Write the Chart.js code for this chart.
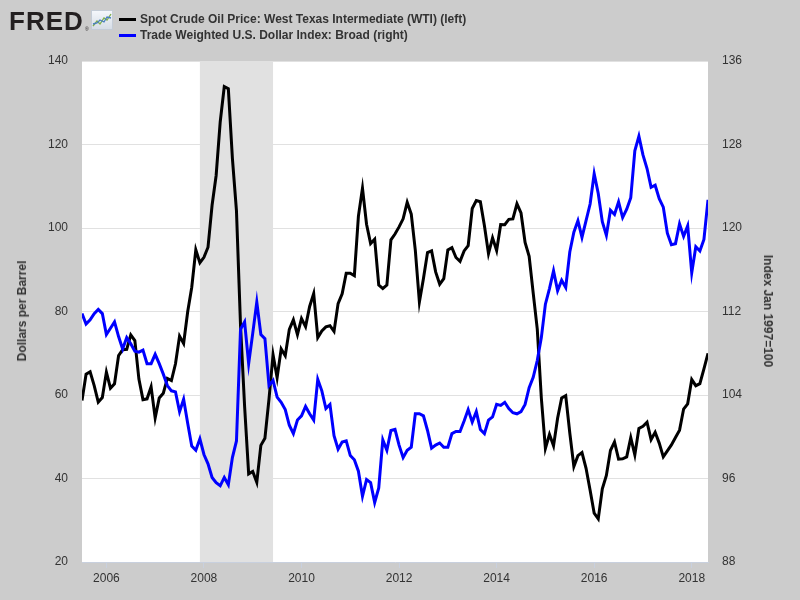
<!DOCTYPE html>
<html>
<head>
<meta charset="utf-8">
<script src="https://cdn.jsdelivr.net/npm/chart.js@4.4.1/dist/chart.umd.min.js"></script>
<style>
  html, body { margin: 0; padding: 0; background: #cccccc; }
  #wrap { position: relative; width: 800px; height: 600px; overflow: hidden; font-family: "Liberation Sans", Arial, sans-serif; }
  #c { position: absolute; left: 0; top: 0; }
  .logo { position: absolute; left: 9px; top: 6px; font-weight: bold; font-size: 26px; line-height: 30px; color: #231f20; letter-spacing: 1px; }
  .reg { position: absolute; left: 85px; top: 26px; font-size: 5px; color: #231f20; }
  .icon { position: absolute; left: 91px; top: 10px; width: 22px; height: 20px; background: linear-gradient(#f4f7fb, #d6dde6); border: 1px solid #c4ccd6; box-sizing: border-box; }
  .leg { position: absolute; left: 119px; height: 16px; font-size: 12px; font-weight: bold; color: #333; white-space: nowrap; }
  .leg .sw { position: absolute; left: 0; top: 7px; width: 17px; height: 3px; }
  .leg .tx { position: absolute; left: 21px; top: 0; line-height: 16px; }
  .ytitle { position: absolute; font-size: 12px; font-weight: bold; color: #333; white-space: nowrap; }
</style>
</head>
<body>
<div id="wrap">
  <canvas id="c" width="800" height="600"></canvas>
  <div class="logo">FRED</div>
  <div class="reg">®</div>
  <div class="icon">
    <svg width="20" height="18" viewBox="0 0 20 18">
      <polyline points="1,15 5,10 8,13 12,7 15,9 19,3" fill="none" stroke="#7fb04a" stroke-width="1.3"/>
      <polyline points="1,13 5,12 8,9 12,11 15,6 19,7" fill="none" stroke="#4a7fc0" stroke-width="1.3"/>
    </svg>
  </div>
  <div class="leg" style="top:11px;"><div class="sw" style="background:#000000"></div><div class="tx">Spot Crude Oil Price: West Texas Intermediate (WTI) (left)</div></div>
  <div class="leg" style="top:27px;"><div class="sw" style="background:#0000ff"></div><div class="tx">Trade Weighted U.S. Dollar Index: Broad (right)</div></div>
  <div class="ytitle" id="lt" style="left:22px; top:311px; transform: translate(-50%,-50%) rotate(-90deg);">Dollars per Barrel</div>
  <div class="ytitle" id="rt" style="left:768px; top:311px; transform: translate(-50%,-50%) rotate(90deg);">Index Jan 1997=100</div>
</div>
<script>
// ---- Data (monthly, first month = July 2005) ----
const startYear = 2005;
const startMonth = 7;

const wti = [
  58.70, 64.97, 65.57, 62.26, 58.32, 59.41,
  65.49, 61.63, 62.69, 69.44, 70.84, 70.95, 74.41, 73.04, 63.80, 58.89, 59.08, 61.96,
  54.51, 59.28, 60.44, 63.98, 63.46, 67.49, 74.12, 72.36, 79.92, 85.80, 94.77, 91.69,
  92.97, 95.39, 105.45, 112.58, 125.40, 133.88, 133.37, 116.67, 104.11, 76.61, 57.31, 41.12,
  41.71, 39.09, 47.94, 49.65, 59.03, 69.64, 64.15, 71.05, 69.41, 75.72, 77.99, 74.47,
  78.33, 76.39, 81.20, 84.29, 73.74, 75.34, 76.32, 76.60, 75.24, 81.89, 84.25, 89.15,
  89.17, 88.58, 102.86, 109.53, 100.90, 96.26, 97.30, 86.33, 85.52, 86.32, 97.16, 98.56,
  100.27, 102.20, 106.16, 103.32, 94.66, 82.30, 87.90, 94.13, 94.51, 89.49, 86.53, 87.86,
  94.76, 95.31, 92.94, 92.02, 94.51, 95.77, 104.67, 106.57, 106.29, 100.54, 93.86, 97.63,
  94.62, 100.82, 100.80, 102.07, 102.18, 105.79, 103.59, 96.54, 93.21, 84.40, 75.79, 59.29,
  47.22, 50.58, 47.82, 54.45, 59.27, 59.82, 50.90, 42.87, 45.48, 46.22, 42.44, 37.19,
  31.68, 30.32, 37.55, 40.75, 46.71, 48.76, 44.65, 44.72, 45.18, 49.78, 45.66, 51.97,
  52.50, 53.47, 49.33, 51.06, 48.48, 45.18, 46.63, 48.04, 49.82, 51.58, 56.64, 57.88,
  63.70, 62.23, 62.73, 66.25, 69.98
];

const dollarIndex = [
  111.8, 110.8, 111.2, 111.8, 112.2, 111.8,
  109.8, 110.4, 111.0, 109.6, 108.4, 109.5, 108.9, 108.2, 108.1, 108.3, 107.0, 107.0,
  107.9, 107.0, 106.0, 104.9, 104.4, 104.3, 102.4, 103.6, 101.3, 99.1, 98.7, 99.8,
  98.3, 97.4, 96.1, 95.6, 95.3, 96.1, 95.4, 98.0, 99.6, 110.3, 111.0, 107.0,
  109.9, 112.9, 109.8, 109.4, 104.9, 105.4, 103.8, 103.3, 102.6, 101.1, 100.3, 101.6,
  102.0, 102.9, 102.2, 101.6, 105.5, 104.4, 102.7, 103.1, 100.1, 98.8, 99.5, 99.6,
  98.2, 97.8, 96.7, 94.3, 95.9, 95.6, 93.7, 95.1, 99.7, 98.7, 100.6, 100.7,
  99.2, 98.0, 98.7, 99.0, 102.2, 102.2, 102.0, 100.6, 98.9, 99.2, 99.4, 99.0,
  99.0, 100.3, 100.5, 100.5, 101.5, 102.6, 101.4, 102.4, 100.7, 100.3, 101.6, 101.9,
  103.1, 103.0, 103.3, 102.7, 102.3, 102.2, 102.4, 103.1, 104.7, 105.7, 107.3, 109.5,
  112.7, 114.2, 115.9, 114.0, 115.0, 114.3, 117.7, 119.6, 120.7, 119.1, 120.7, 122.3,
  125.2, 123.3, 120.6, 119.3, 121.7, 121.3, 122.5, 121.0, 121.8, 122.9, 127.4, 128.8,
  127.0, 125.7, 123.9, 124.1, 122.8, 122.0, 119.5, 118.4, 118.5, 120.4, 119.2, 120.2,
  115.7, 118.2, 117.8, 118.9, 122.7
];

const xTickYears = [2006, 2008, 2010, 2012, 2014, 2016, 2018];
const leftTicks = [20, 40, 60, 80, 100, 120, 140];
const rightTicks = [88, 96, 104, 112, 120, 128, 136];
const recessions = [[2007, 12, 2009, 6]];

// month index -> decimal year
const monthToX = i => startYear + (startMonth - 1) / 12 + i / 12;
const ymToX = (y, m) => y + (m - 1) / 12;

const wtiPts = wti.map((v, i) => ({ x: monthToX(i), y: v }));
const usdPts = dollarIndex.map((v, i) => ({ x: monthToX(i), y: v }));

const bgPlugin = {
  id: 'bg',
  beforeDraw(chart) {
    const { ctx, chartArea: a } = chart;
    ctx.save();
    ctx.fillStyle = '#ffffff';
    ctx.fillRect(a.left, a.top, a.right - a.left, a.bottom - a.top);
    ctx.restore();
  },
  beforeDatasetsDraw(chart) {
    const { ctx, chartArea: a, scales } = chart;
    ctx.save();
    ctx.fillStyle = '#e1e1e1';
    recessions.forEach(r => {
      const x0 = scales.x.getPixelForValue(ymToX(r[0], r[1]));
      const x1 = scales.x.getPixelForValue(ymToX(r[2], r[3]));
      ctx.fillRect(x0, a.top, x1 - x0, a.bottom - a.top);
    });
    ctx.restore();
  }
};

const tickFont = { family: '"Liberation Sans", Arial, sans-serif', size: 12 };

new Chart(document.getElementById('c'), {
  type: 'line',
  data: {
    datasets: [
      { label: 'Spot Crude Oil Price: West Texas Intermediate (WTI) (left)', data: wtiPts, yAxisID: 'y',
        borderColor: '#000000', borderWidth: 3, order: 1 },
      { label: 'Trade Weighted U.S. Dollar Index: Broad (right)', data: usdPts, yAxisID: 'y1',
        borderColor: '#0000ff', borderWidth: 3, order: 0 }
    ]
  },
  options: {
    responsive: false,
    animation: false,
    devicePixelRatio: 1,
    layout: { padding: { top: 61, left: 0, right: 0, bottom: 0 } },
    elements: { point: { radius: 0 }, line: { tension: 0, borderJoinStyle: 'miter', borderCapStyle: 'butt', fill: false } },
    plugins: { legend: { display: false }, tooltip: { enabled: false }, title: { display: false } },
    scales: {
      x: {
        type: 'linear',
        min: monthToX(0),
        max: monthToX(wti.length - 1),
        afterFit(s) { s.height = 38; },
        afterBuildTicks(s) { s.ticks = xTickYears.map(v => ({ value: v })); },
        grid: { drawOnChartArea: false, drawTicks: true, tickLength: 6, color: '#c8d0de', lineWidth: 1 },
        border: { display: true, color: '#c8d0de', width: 1 },
        ticks: { callback: v => String(v), font: tickFont, color: '#333333', padding: 3, maxRotation: 0, autoSkip: false }
      },
      y: {
        position: 'left',
        min: 20, max: 140,
        afterFit(s) { s.width = 82; },
        afterBuildTicks(s) { s.ticks = leftTicks.map(v => ({ value: v })); },
        grid: { color: '#e1e1e1', lineWidth: 1, drawTicks: false },
        border: { display: false },
        ticks: { font: tickFont, color: '#333333', padding: 14 }
      },
      y1: {
        position: 'right',
        min: 88, max: 136,
        afterFit(s) { s.width = 92; },
        afterBuildTicks(s) { s.ticks = rightTicks.map(v => ({ value: v })); },
        grid: { drawOnChartArea: false, drawTicks: false },
        border: { display: false },
        ticks: { font: tickFont, color: '#333333', padding: 14 }
      }
    }
  },
  plugins: [bgPlugin]
});
</script>
</body>
</html>
